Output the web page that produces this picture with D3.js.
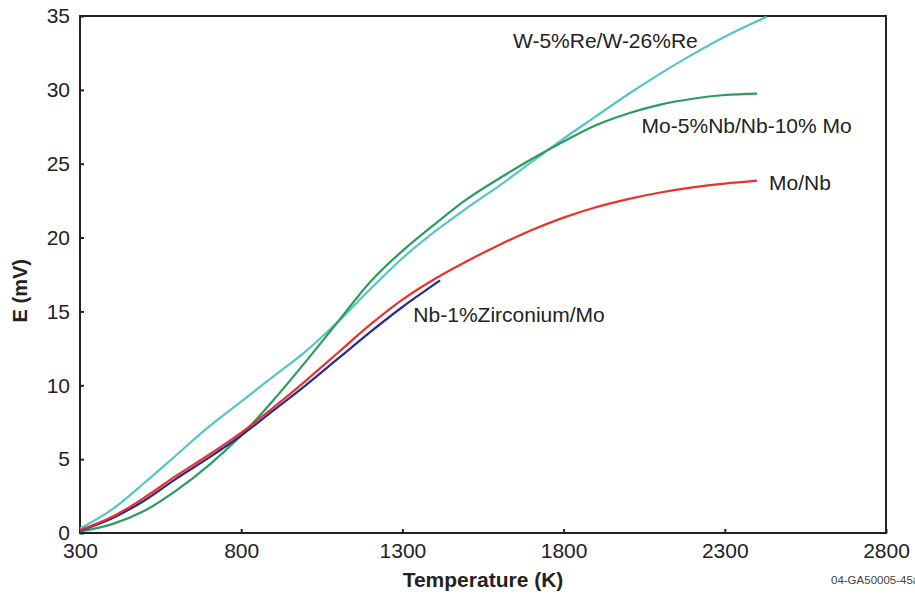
<!DOCTYPE html>
<html>
<head>
<meta charset="utf-8">
<script src="https://cdn.jsdelivr.net/npm/d3@7"></script>
<style>
  body { margin: 0; background: #fff; }
  svg { display: block; font-family: "Liberation Sans", Arial, sans-serif; }
</style>
</head>
<body>
<svg id="chart" width="915" height="597"></svg>
<script>
// axis ticks
var xTicks = [300, 800, 1300, 1800, 2300, 2800]
var yTicks = [0, 5, 10, 15, 20, 25, 30, 35]

// W-5%Re/W-26%Re
var wReT = [300, 400, 500, 600, 700, 800, 900, 1000, 1100, 1200, 1300, 1400, 1500, 1600, 1700, 1800, 1900, 2000, 2100, 2200, 2300, 2430]
var wReE = [0.3, 1.6, 3.4, 5.3, 7.2, 8.9, 10.6, 12.3, 14.3, 16.5, 18.6, 20.4, 22.0, 23.5, 25.1, 26.7, 28.2, 29.7, 31.1, 32.4, 33.6, 34.95]

// Mo-5%Nb/Nb-10% Mo
var moNbAlloyT = [300, 400, 500, 600, 700, 800, 900, 1000, 1100, 1200, 1300, 1400, 1500, 1600, 1700, 1800, 1900, 2000, 2100, 2200, 2300, 2400]
var moNbAlloyE = [0.1, 0.6, 1.5, 2.9, 4.6, 6.6, 9.0, 11.6, 14.3, 17.0, 19.1, 20.9, 22.6, 24.0, 25.3, 26.5, 27.6, 28.4, 29.0, 29.4, 29.65, 29.75]

// Mo/Nb
var moNbT = [300, 400, 500, 600, 700, 800, 900, 1000, 1100, 1200, 1300, 1400, 1500, 1600, 1700, 1800, 1900, 2000, 2100, 2200, 2300, 2400]
var moNbE = [0.2, 1.1, 2.4, 3.9, 5.3, 6.8, 8.5, 10.3, 12.2, 14.1, 15.8, 17.2, 18.4, 19.5, 20.5, 21.35, 22.05, 22.6, 23.05, 23.4, 23.65, 23.85]

// Nb-1%Zirconium/Mo
var nbZrT = [300, 400, 500, 600, 700, 800, 900, 1000, 1100, 1200, 1300, 1417]
var nbZrE = [0.15, 1.0, 2.2, 3.7, 5.1, 6.6, 8.3, 10.0, 11.8, 13.6, 15.3, 17.1]

var seriesNames = ["W-5%Re/W-26%Re", "Mo-5%Nb/Nb-10% Mo", "Mo/Nb", "Nb-1%Zirconium/Mo"]
var seriesColors = ["#55c6c6", "#2a9d5e", "#e8322b", "#2b2a8e"]
// label anchors, in data units (T, E)
var labelT = [1643, 2042, 2437, 1334]
var labelE = [32.8, 27.06, 23.2, 14.3]

var series = [
    {t: wReT, e: wReE},
    {t: moNbAlloyT, e: moNbAlloyE},
    {t: moNbT, e: moNbE},
    {t: nbZrT, e: nbZrE}
]

var margin = {top: 16, right: 29, bottom: 64, left: 80}
var width = 915, height = 597

var svg = d3.select("#chart")

var x = d3.scaleLinear().domain([300, 2800]).range([margin.left, width - margin.right])
var y = d3.scaleLinear().domain([0, 35]).range([height - margin.bottom, margin.top])

// x axis
svg.append("g")
    .attr("transform", "translate(0," + y(0) + ")")
    .call(d3.axisBottom(x).tickValues(xTicks).tickSizeInner(-4).tickSizeOuter(0).tickPadding(10).tickFormat(d3.format("d")))
    .call(function(g) {
        g.select(".domain").remove()
        g.selectAll("line").attr("stroke", "#222").attr("stroke-width", 2)
        g.selectAll("text").attr("font-size", 21).attr("fill", "#222")
    })

// y axis
svg.append("g")
    .attr("transform", "translate(" + x(300) + ",0)")
    .call(d3.axisLeft(y).tickValues(yTicks).tickSizeInner(-4).tickSizeOuter(0).tickPadding(10))
    .call(function(g) {
        g.select(".domain").remove()
        g.selectAll("line").attr("stroke", "#222").attr("stroke-width", 2)
        g.selectAll("text").attr("font-size", 21).attr("fill", "#222")
    })

// frame
svg.append("rect")
    .attr("x", x(300)).attr("y", y(35))
    .attr("width", x(2800) - x(300)).attr("height", y(0) - y(35))
    .attr("fill", "none").attr("stroke", "#222").attr("stroke-width", 2)

var line = d3.line()
    .x(function(d) { return x(d[0]) })
    .y(function(d) { return y(d[1]) })
    .curve(d3.curveCatmullRom.alpha(0.5))

// draw Nb-Zr first so red sits on top like the original
var order = [0, 1, 3, 2]
order.forEach(function(i) {
    var pts = series[i].t.map(function(t, j) { return [t, series[i].e[j]] })
    svg.append("path")
        .datum(pts)
        .attr("d", line)
        .attr("fill", "none")
        .attr("stroke", seriesColors[i])
        .attr("stroke-width", 2.2)
})

seriesNames.forEach(function(name, i) {
    svg.append("text")
        .attr("x", x(labelT[i]))
        .attr("y", y(labelE[i]))
        .attr("font-size", 21)
        .attr("fill", "#222")
        .text(name)
})

// axis titles
svg.append("text")
    .attr("x", (x(300) + x(2800)) / 2)
    .attr("y", 587)
    .attr("text-anchor", "middle")
    .attr("font-size", 21)
    .attr("font-weight", "bold")
    .attr("fill", "#222")
    .text("Temperature (K)")

svg.append("text")
    .attr("transform", "translate(27," + y(16.4) + ") rotate(-90)")
    .attr("text-anchor", "middle")
    .attr("font-size", 20)
    .attr("font-weight", "bold")
    .attr("fill", "#222")
    .text("E (mV)")

svg.append("text")
    .attr("x", 831)
    .attr("y", 584)
    .attr("font-size", 11.5)
    .attr("fill", "#444")
    .text("04-GA50005-45a")
</script>
</body>
</html>
